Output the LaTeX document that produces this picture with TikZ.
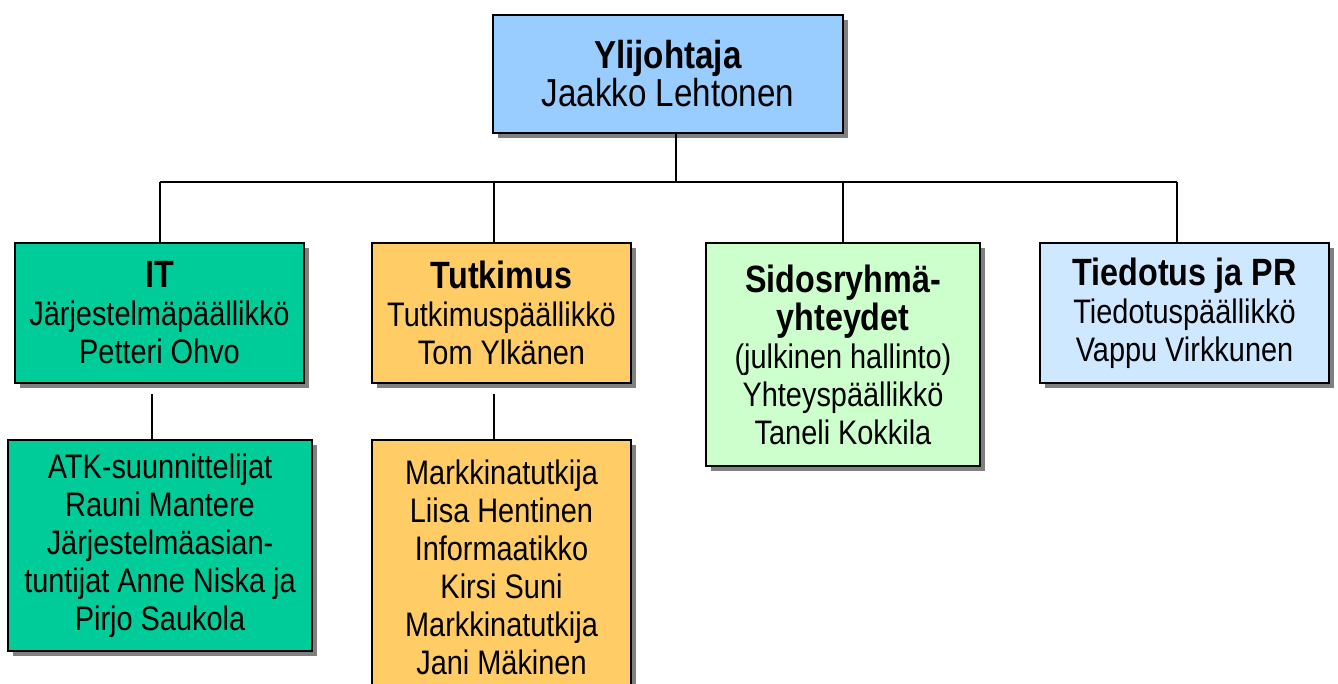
\documentclass[tikz,border=0pt]{standalone}
\usepackage{fontspec}
\setmainfont{Liberation Sans}[FakeStretch=0.85]
\usepackage{tikz}
\usetikzlibrary{shadows}

\definecolor{bossblue}{RGB}{153,204,255}
\definecolor{itgreen}{RGB}{0,204,153}
\definecolor{resorange}{RGB}{255,204,102}
\definecolor{sidgreen}{RGB}{204,255,204}
\definecolor{prblue}{RGB}{206,232,255}

\tikzset{
  every unit/.style={draw=black, line width=1.3pt, align=center, inner sep=0pt,
    font=\fontsize{34}{38}\selectfont,
    drop shadow={shadow xshift=5pt, shadow yshift=-5pt, fill=gray, opacity=1}},
  link/.style={line width=1.3pt}
}
\newcommand{\unittitle}[1]{{\fontsize{38}{40}\selectfont\bfseries #1}}

\begin{document}
\begin{tikzpicture}[x=1pt, y=-1pt]

\useasboundingbox (0,0) rectangle (1338,684);

% Laatikot

\node [every unit, fill=bossblue, minimum width=350, minimum height=118,
  font=\fontsize{39}{38}\selectfont] (boss) at (668,74)
  {\textbf{Ylijohtaja}\\Jaakko Lehtonen};

\node [every unit, fill=itgreen, minimum width=289, minimum height=140] (it) at (159.5,313)
  {\unittitle{IT}\\Järjestelmäpäällikkö\\Petteri Ohvo};

\node [every unit, fill=resorange, minimum width=259, minimum height=140] (res) at (501.5,313)
  {\unittitle{Tutkimus}\\Tutkimuspäällikkö\\Tom Ylkänen};

\node [every unit, fill=sidgreen, minimum width=274, minimum height=223] (sid) at (843,354.5)
  {\unittitle{Sidosryhmä-}\\\unittitle{yhteydet}\\(julkinen hallinto)\\Yhteyspäällikkö\\Taneli Kokkila};

\node [every unit, fill=prblue, minimum width=289, minimum height=140] (pr) at (1184.5,313)
  {\unittitle{Tiedotus ja PR}\\Tiedotuspäällikkö\\Vappu Virkkunen};

\node [every unit, fill=itgreen, minimum width=304, minimum height=211] (itsub) at (160,545.5)
  {ATK-suunnittelijat\\Rauni Mantere\\Järjestelmäasian-\\tuntijat Anne Niska ja\\Pirjo Saukola};

\node [every unit, fill=resorange, minimum width=259, minimum height=254] (ressub) at (501.5,567)
  {Markkinatutkija\\Liisa Hentinen\\Informaatikko\\Kirsi Suni\\Markkinatutkija\\Jani Mäkinen};

% Viivat

\coordinate (bus-top) at (676,182);
\draw [link] (bus-top |- boss.south) -- (bus-top);

\foreach \n/\x in {it/160,res/494,sid/843,pr/1177}
  \coordinate (bus-\n) at (\x,182);

\draw [link] (bus-it) -- (bus-pr);

\foreach \n in {it,res,sid,pr}
  \draw [link] (bus-\n) -- (bus-\n |- \n.north);

\foreach \n/\x in {it/152,res/494}
  \coordinate (drop-\n) at (\x,394);

\foreach \n in {it,res}
  \draw [link] (drop-\n) -- (drop-\n |- \n sub.north);

\end{tikzpicture}
\end{document}
